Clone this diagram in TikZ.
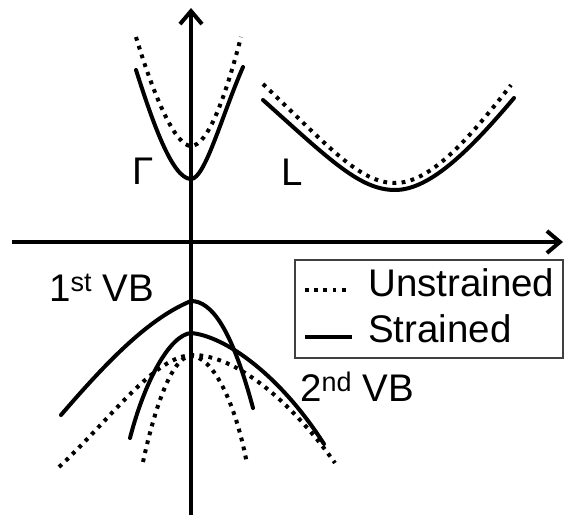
\documentclass[tikz,border=0pt]{standalone}
\usepackage{fontspec}
\setmainfont{Liberation Sans}
\usepackage{tikz}
\usetikzlibrary{arrows.meta, positioning}

\begin{document}
\begin{tikzpicture}[x=1pt, y=-1pt,
    axis/.style={line width=4pt, -{Straight Barb[length=13pt, width=22pt, line width=4pt]}},
    strained/.style={line width=4pt, line cap=round},
    unstrained/.style={line width=4pt, dash pattern=on 3.8pt off 5.4pt},
    label/.style={inner sep=0pt, anchor=base west, font=\fontsize{38.5}{44}\selectfont}]
  \useasboundingbox (0,0) rectangle (564,514);

  % axes
  \coordinate (kleft) at (12,242);
  \coordinate (kright) at (563,242);
  \coordinate (ebottom) at (191,516);
  \coordinate (etop) at (191,8);
  \draw[axis] (kleft) -- (kright);
  \draw[axis] (ebottom) -- (etop);

  % conduction band, Gamma valley
  \draw[unstrained] (136,37) .. controls (155,100) and (176,146) .. (191,146)
                             .. controls (208,146) and (226,95) .. (241,37);
  \draw[strained] (136,70) .. controls (152,120) and (172,179) .. (191,179)
                           .. controls (205,179) and (222,115) .. (243,67);
  % conduction band, L valley
  \draw[unstrained] (263,84) .. controls (330,148) and (360,183) .. (395,183)
                             .. controls (430,183) and (468,140) .. (511,85);
  \draw[strained] (263,100) .. controls (330,160) and (360,190) .. (395,190)
                            .. controls (430,190) and (470,150) .. (514,98);

  % valence bands, unstrained
  \draw[unstrained] (59,467) .. controls (110,420) and (155,355) .. (193,355)
                             .. controls (235,355) and (290,400) .. (335,463);
  \draw[unstrained] (143,462) .. controls (152,420) and (170,356) .. (191,356)
                              .. controls (212,356) and (235,400) .. (247,464);
  % valence bands, strained
  \draw[strained] (61,415) .. controls (110,358) and (150,318) .. (191,301);
  \draw[strained] (191,301) .. controls (212,301) and (232,330) .. (253,408);
  \draw[strained] (130,438) .. controls (145,380) and (170,335) .. (191,333);
  \draw[strained] (191,333) .. controls (225,336) and (280,375) .. (324,444);

  % labels
  \node[label] (gamma) at (132,184) {Γ};
  \node[label] (lval) at (281,185) {L};
  \node[label] (vb1) at (49,301) {1\textsuperscript{st} VB};
  \node[label] (vb2) at (300,401) {2\textsuperscript{nd} VB};

  % legend
  \node[draw=black!75, line width=1.5pt, minimum width=268pt, minimum height=98pt,
        inner sep=0pt, anchor=north west] (legend) at (294,259) {};
  \coordinate (dotA) at (305,290);
  \coordinate (dotB) at (350,290);
  \coordinate (solA) at (305,337);
  \coordinate (solB) at (352,337);
  \draw[unstrained] (dotA) -- (dotB);
  \draw[line width=4pt] (solA) -- (solB);
  \node[label] (unstr) at (368,296) {Unstrained};
  \node[label] (str) at (368,342) {Strained};
\end{tikzpicture}
\end{document}
